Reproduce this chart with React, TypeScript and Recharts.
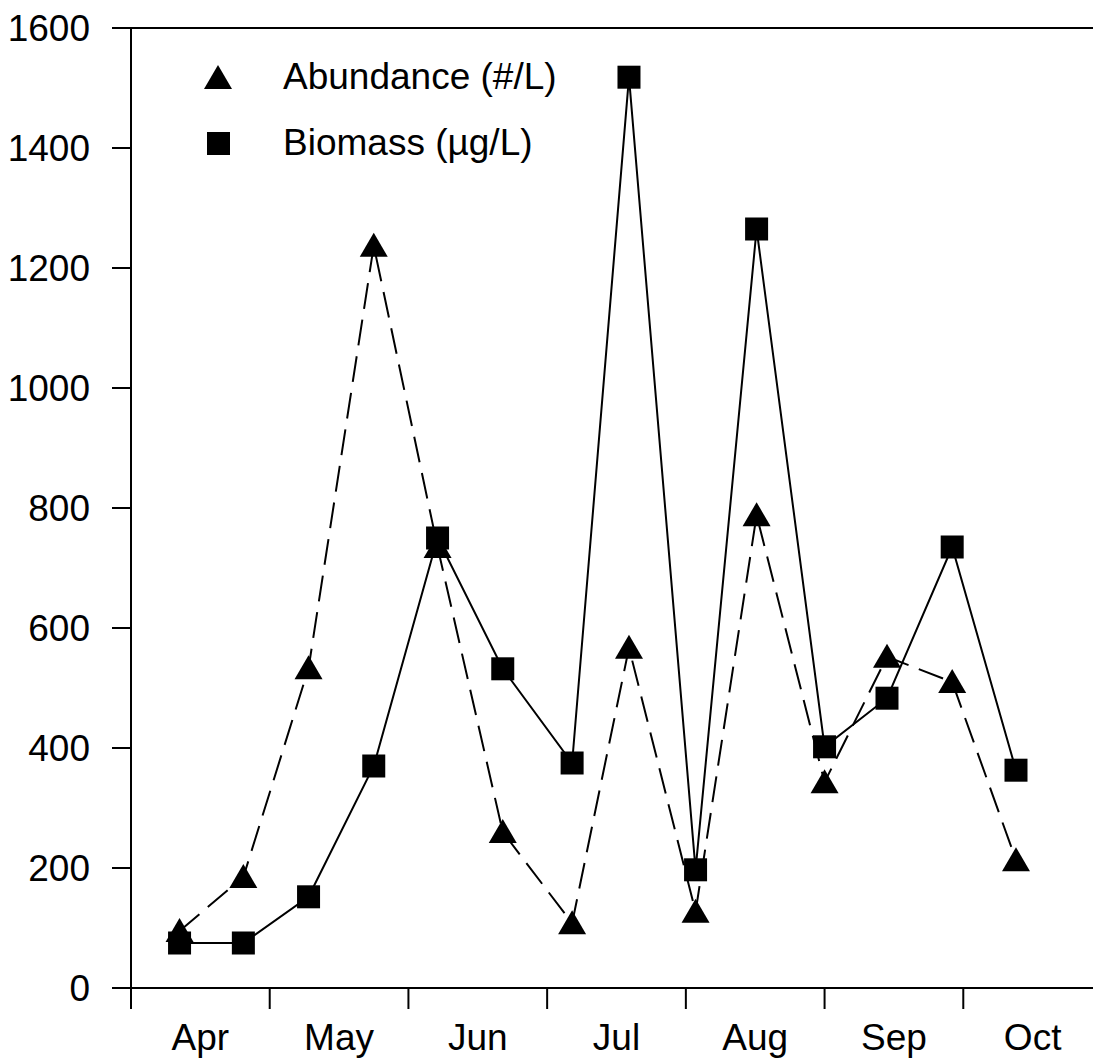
import React from 'react';
import { LineChart, Line, XAxis, YAxis, ReferenceLine } from 'recharts';

// sampling dates as month position (0 = start of Apr)
const sampleMonth = [0.35, 0.81, 1.28, 1.75, 2.21, 2.68, 3.18, 3.59, 4.07, 4.51, 5.0, 5.45, 5.92, 6.38];
const abundance = [95, 185, 533, 1237, 735, 260, 108, 567, 127, 788, 343, 552, 510, 213];
const biomass = [75, 75, 152, 370, 750, 532, 375, 1518, 197, 1265, 402, 483, 735, 363];

const months = ['Apr', 'May', 'Jun', 'Jul', 'Aug', 'Sep', 'Oct'];
const yTicks = [0, 200, 400, 600, 800, 1000, 1200, 1400, 1600];

const data = sampleMonth.map((m, i) => ({
  month: m,
  abundance: abundance[i],
  biomass: biomass[i],
}));

// integer ticks = month boundaries, half ticks = month labels
const xTicks: number[] = [];
for (let i = 0; i <= months.length; i++) {
  xTicks.push(i);
  if (i < months.length) xTicks.push(i + 0.5);
}

const FONT = '"Liberation Sans", Arial, sans-serif';

const MonthTick = (props: any) => {
  const { x, y, payload } = props;
  const v = payload.value;
  if (Number.isInteger(v)) {
    return <line x1={x} x2={x} y1={y} y2={y + 21} stroke="#000" strokeWidth={2} />;
  }
  return (
    <text x={x} y={y + 62} textAnchor="middle" fontSize={37} fontFamily={FONT} fill="#000">
      {months[Math.floor(v)]}
    </text>
  );
};

const TriangleDot = (props: any) => {
  const { cx, cy, index } = props;
  if (cx == null || cy == null) return null;
  return (
    <path
      key={`tri-${index}`}
      d={`M${cx},${cy - 13} L${cx + 14},${cy + 11} L${cx - 14},${cy + 11} Z`}
      fill="#000"
      stroke="none"
    />
  );
};

const SquareDot = (props: any) => {
  const { cx, cy, index } = props;
  if (cx == null || cy == null) return null;
  return <rect key={`sq-${index}`} x={cx - 11.5} y={cy - 11.5} width={23} height={23} fill="#000" />;
};

const ChartLegend = () => (
  <div
    style={{
      position: 'absolute',
      left: 203,
      top: 44,
      fontFamily: FONT,
      fontSize: 37,
      color: '#000',
      lineHeight: '66px',
    }}
  >
    <div style={{ display: 'flex', alignItems: 'center' }}>
      <svg width={30} height={28} style={{ marginRight: 50 }}>
        <path d="M15,2 L29,26 L1,26 Z" fill="#000" />
      </svg>
      <span>Abundance (#/L)</span>
    </div>
    <div style={{ display: 'flex', alignItems: 'center' }}>
      <svg width={30} height={28} style={{ marginRight: 50 }}>
        <rect x={4} y={3} width={23} height={23} fill="#000" />
      </svg>
      <span>Biomass (µg/L)</span>
    </div>
  </div>
);

export default function App() {
  return (
    <div style={{ position: 'absolute', left: 0, top: 0, width: 1093, height: 1062, overflow: 'hidden', background: '#fff' }}>
      <LineChart width={1110} height={1062} data={data} margin={{ top: 28, right: 8, left: 0, bottom: 0 }}>
        <XAxis
          dataKey="month"
          type="number"
          domain={[0, 7]}
          ticks={xTicks}
          interval={0}
          tickLine={false}
          tickSize={0}
          tickMargin={0}
          tick={<MonthTick />}
          height={74}
          axisLine={{ stroke: '#000', strokeWidth: 2 }}
        />
        <YAxis
          type="number"
          domain={[0, 1600]}
          ticks={yTicks}
          interval={0}
          width={131}
          tickSize={19}
          tickMargin={22}
          axisLine={{ stroke: '#000', strokeWidth: 2 }}
          tickLine={{ stroke: '#000', strokeWidth: 2 }}
          tick={{ fill: '#000', fontSize: 37, fontFamily: FONT }}
        />
        <ReferenceLine y={1600} stroke="#000" strokeWidth={2} />
        <Line
          dataKey="abundance"
          name="Abundance (#/L)"
          stroke="#000"
          strokeWidth={2}
          strokeDasharray="26 11"
          dot={<TriangleDot />}
          activeDot={false}
          isAnimationActive={false}
        />
        <Line
          dataKey="biomass"
          name="Biomass (µg/L)"
          stroke="#000"
          strokeWidth={2}
          dot={<SquareDot />}
          activeDot={false}
          isAnimationActive={false}
        />
      </LineChart>
      <ChartLegend />
    </div>
  );
}
